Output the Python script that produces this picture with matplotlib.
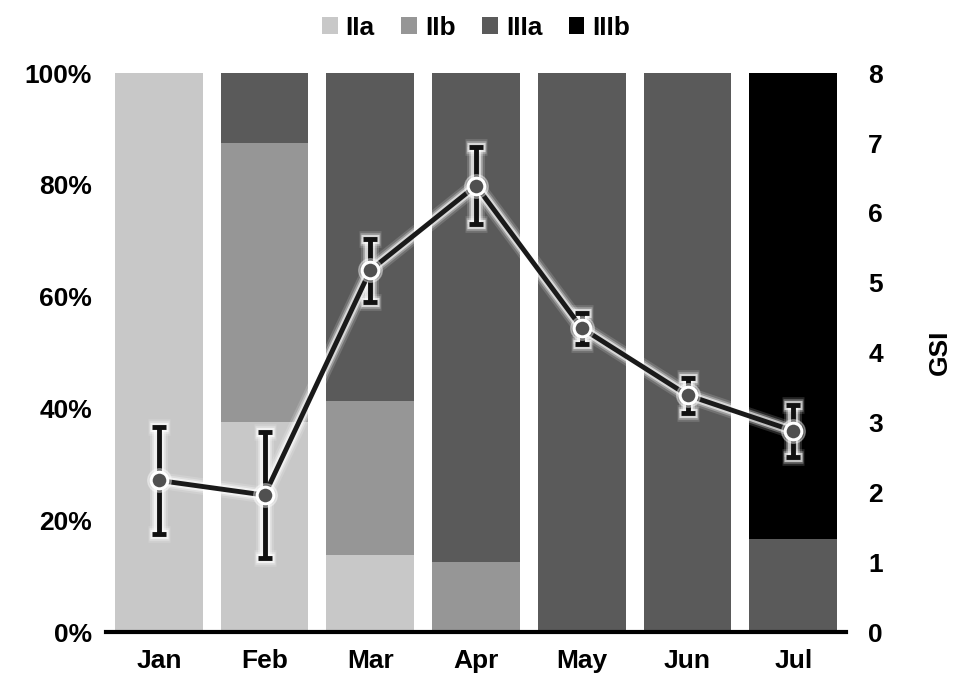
import numpy as np
import matplotlib.pyplot as plt

months = ['Jan', 'Feb', 'Mar', 'Apr', 'May', 'Jun', 'Jul']

# stage composition (%) per month
iia = [100.0, 37.5, 13.8, 0.0, 0.0, 0.0, 0.0]
iib = [0.0, 50.0, 27.6, 12.5, 0.0, 0.0, 0.0]
iiia = [0.0, 12.5, 58.6, 87.5, 100.0, 100.0, 16.7]
iiib = [0.0, 0.0, 0.0, 0.0, 0.0, 0.0, 83.3]

# gonadosomatic index, mean and error
gsi = [2.17, 1.96, 5.18, 6.39, 4.35, 3.39, 2.88]
gsi_err = [0.76, 0.90, 0.45, 0.55, 0.22, 0.25, 0.37]

colors = ['#c8c8c8', '#969696', '#5a5a5a', '#000000']
labels = ['IIa', 'IIb', 'IIIa', 'IIIb']

plt.rcParams['font.family'] = ['Liberation Sans', 'DejaVu Sans']
plt.rcParams['font.weight'] = 'bold'
fs = 19

fig = plt.figure(figsize=(9.55, 6.84), dpi=100)
ax = fig.add_axes([0.111, 0.076, 0.775, 0.817])

x = np.arange(len(months))
bottom = np.zeros(len(months))
for vals, c, lab in zip([iia, iib, iiia, iiib], colors, labels):
    ax.bar(x, vals, width=0.83, bottom=bottom, color=c, label=lab)
    bottom += np.array(vals)

ax.set_xlim(-0.5, 6.5)
ax.set_ylim(0, 100)
ax.set_yticks(np.arange(0, 101, 20))
ax.set_yticklabels([f'{v}%' for v in range(0, 101, 20)])
ax.set_xticks(x)
ax.set_xticklabels(months)
ax.tick_params(axis='y', length=0, labelsize=fs, pad=10)
ax.tick_params(axis='x', length=0, labelsize=fs, pad=12)
for s in ['top', 'right', 'left']:
    ax.spines[s].set_visible(False)
ax.spines['bottom'].set_linewidth(3)
ax.spines['bottom'].set_zorder(10)

ax2 = ax.twinx()
ax2.set_ylim(0, 8)
ax2.set_yticks(range(0, 9))
ax2.tick_params(axis='y', length=0, labelsize=fs, pad=16)
for s in ax2.spines.values():
    s.set_visible(False)
ax2.set_ylabel('GSI', fontsize=fs, fontweight='bold', labelpad=32)

# soft white halo under the line and error bars
for lw, a in [(12, 0.15), (9, 0.3), (6.5, 0.6)]:
    ax2.plot(x, gsi, color='white', lw=lw, alpha=a, solid_capstyle='round', zorder=3)
    ax2.errorbar(x, gsi, yerr=gsi_err, fmt='none', ecolor='white', elinewidth=lw + 1,
                 capsize=5 + lw / 4, capthick=lw, alpha=a, zorder=3)

ax2.plot(x, gsi, color='#1a1a1a', lw=3.5, zorder=4)
ax2.errorbar(x, gsi, yerr=gsi_err, fmt='none', ecolor='#111111', elinewidth=3.5,
             capsize=5, capthick=3.5, zorder=4)
ax2.plot(x, gsi, ls='none', marker='o', markersize=17, markerfacecolor='white',
         markeredgecolor='white', alpha=0.35, zorder=5)
ax2.plot(x, gsi, ls='none', marker='o', markersize=12, markerfacecolor='#505050',
         markeredgecolor='white', markeredgewidth=2.2, zorder=6)

ax.legend(loc='upper center', bbox_to_anchor=(0.5, 1.145), ncol=4, frameon=False,
          fontsize=fs, handlelength=0.6, handleheight=0.6, handletextpad=0.3,
          columnspacing=1.0)

fig.savefig('out.png', dpi=100)
